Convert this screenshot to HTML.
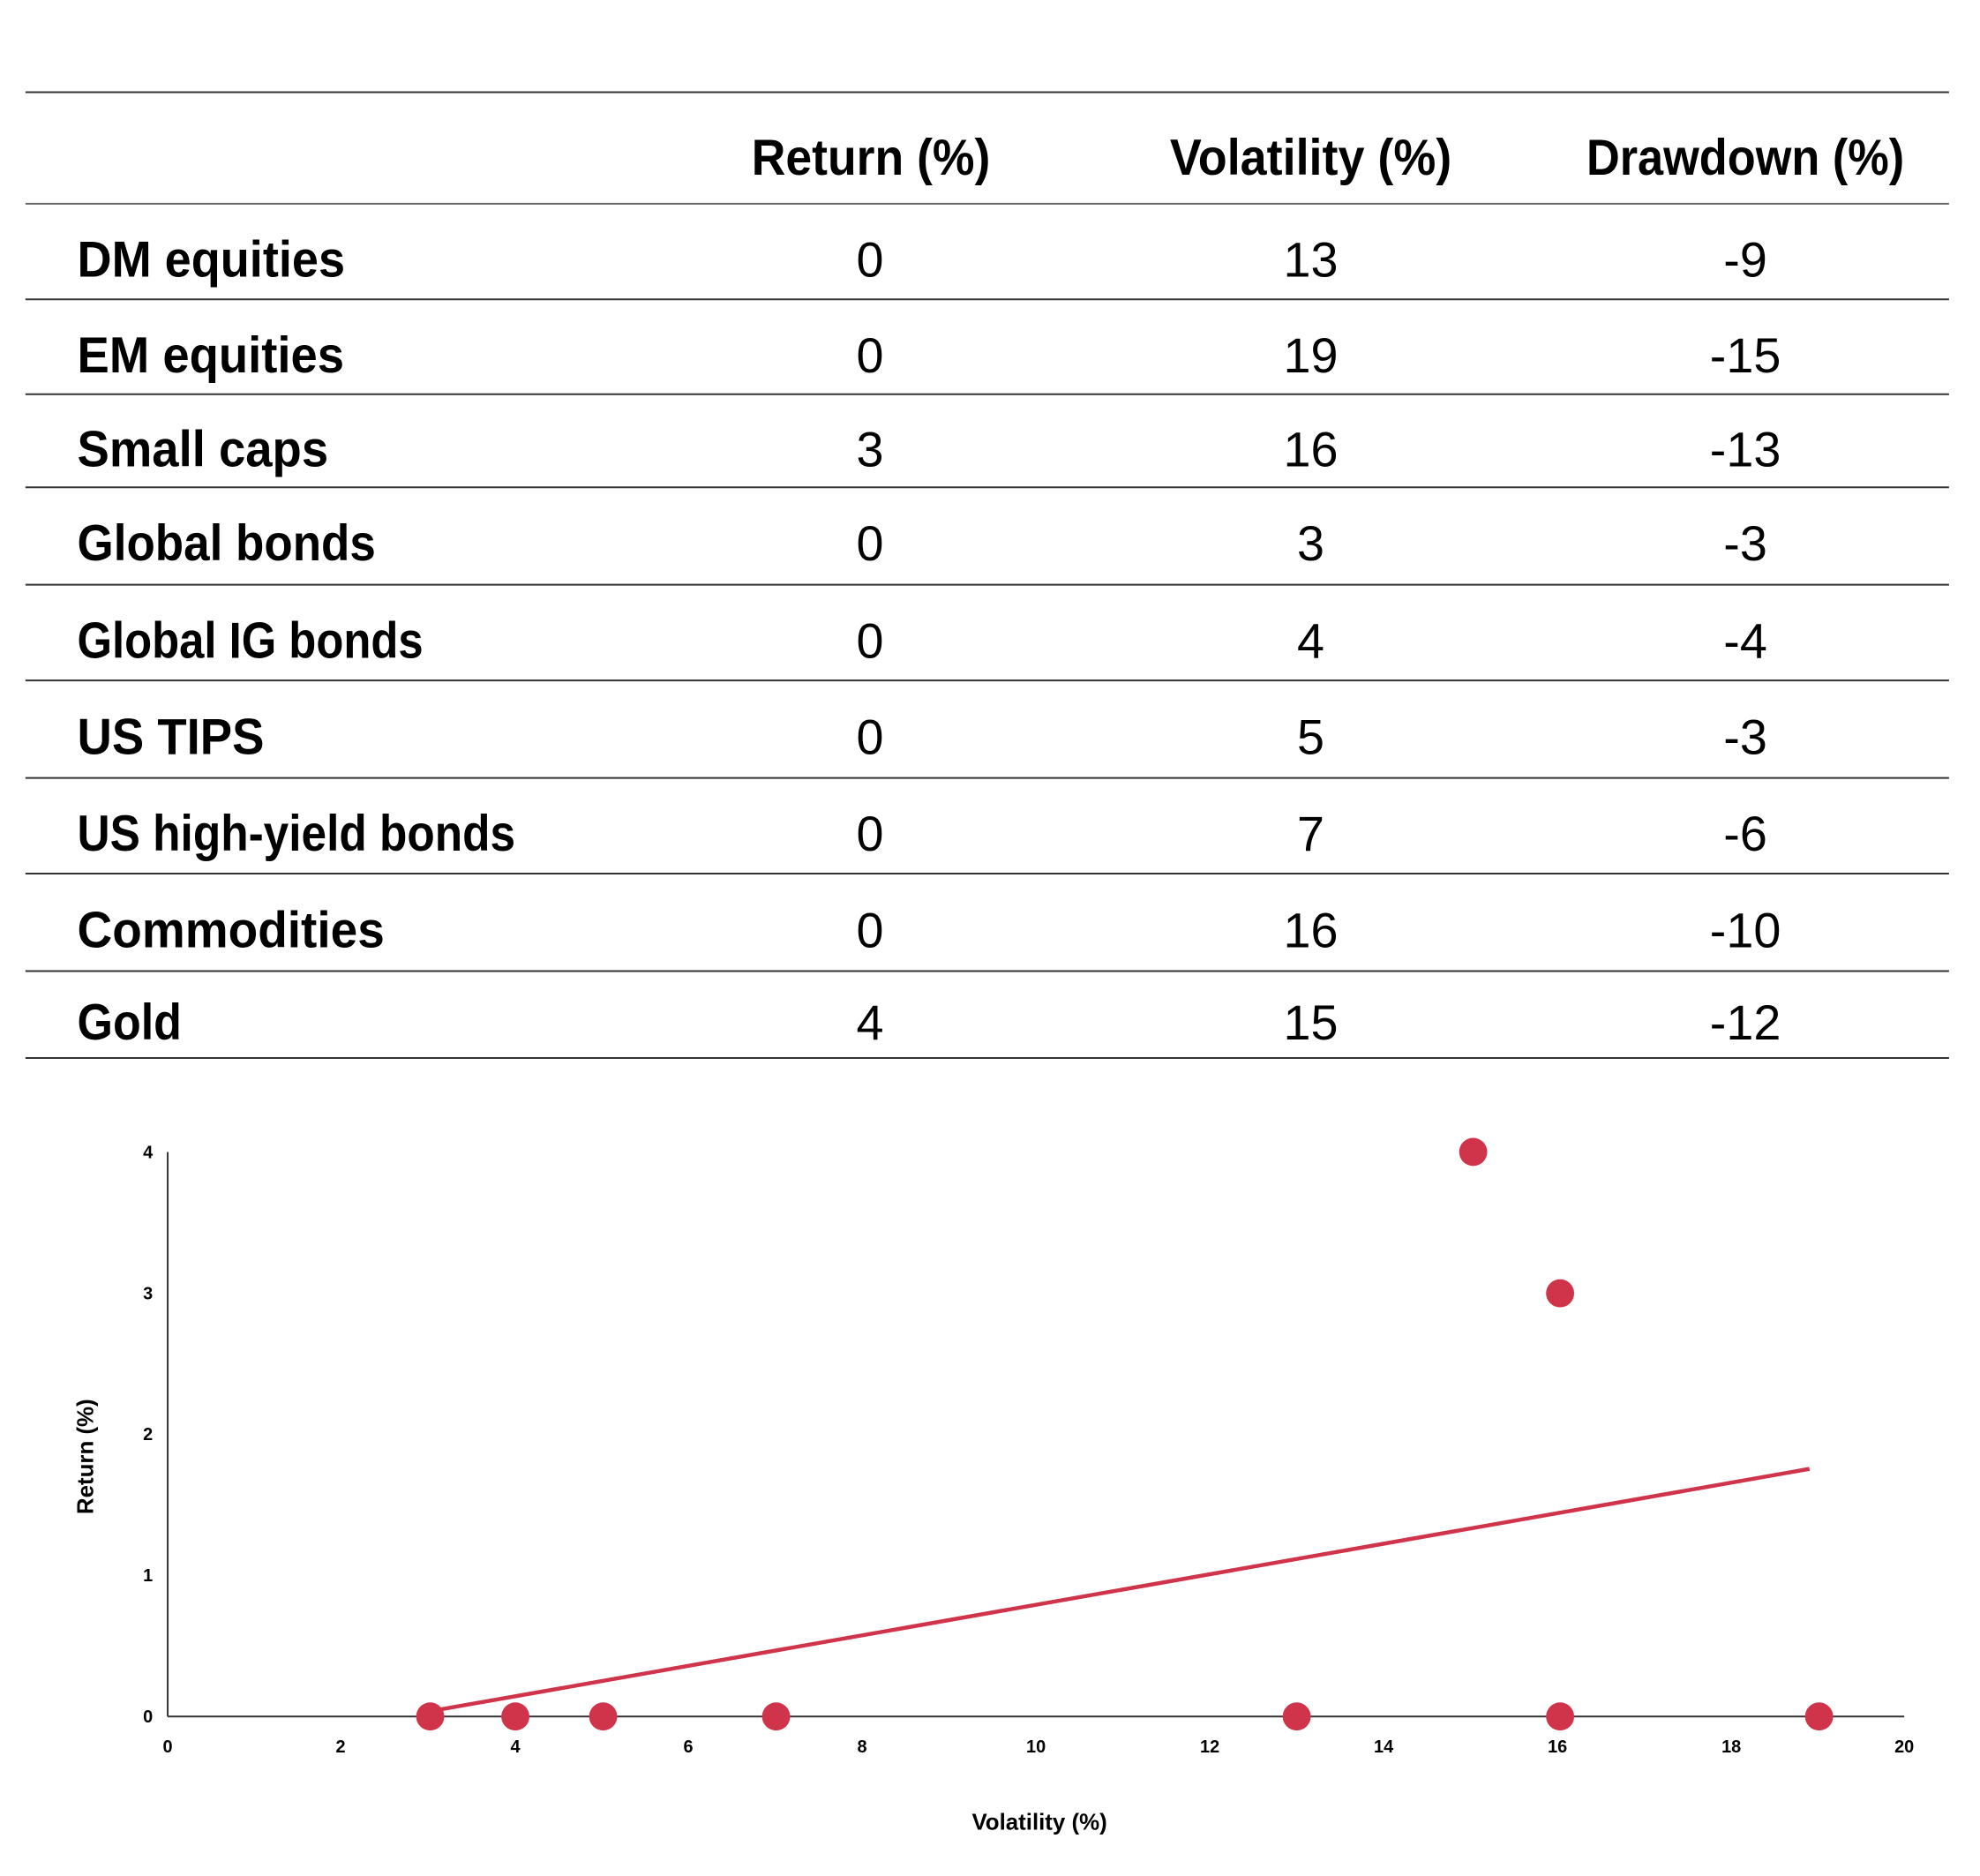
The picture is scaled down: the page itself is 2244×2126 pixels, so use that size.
<!DOCTYPE html>
<html><head><meta charset="utf-8"><style>
html,body{margin:0;padding:0;background:#fff;}
svg{display:block;}
text{font-family:"Liberation Sans",Arial,sans-serif;}
</style></head><body>
<svg width="2244" height="2126" viewBox="0 0 2244 2126" xmlns="http://www.w3.org/2000/svg">
<rect width="2244" height="2126" fill="#fff"/>
<g transform="scale(0.995)">
<g stroke="#333" stroke-width="2">
<line x1="29" y1="105" x2="2220" y2="105"/>
<line x1="29" y1="232" x2="2220" y2="232" stroke="#666"/>
<line x1="29" y1="341" x2="2220" y2="341"/>
<line x1="29" y1="449" x2="2220" y2="449"/>
<line x1="29" y1="555" x2="2220" y2="555"/>
<line x1="29" y1="666" x2="2220" y2="666"/>
<line x1="29" y1="775" x2="2220" y2="775"/>
<line x1="29" y1="886" x2="2220" y2="886"/>
<line x1="29" y1="995" x2="2220" y2="995"/>
<line x1="29" y1="1106" x2="2220" y2="1106"/>
<line x1="29" y1="1205" x2="2220" y2="1205"/>
</g>
<g transform="translate(0,-4)">
<g font-weight="bold" font-size="58" fill="#000" text-anchor="middle">
<text x="992" y="203" textLength="272" lengthAdjust="spacingAndGlyphs">Return (%)</text>
<text x="1493" y="203" textLength="321" lengthAdjust="spacingAndGlyphs">Volatility (%)</text>
<text x="1988" y="203" textLength="362" lengthAdjust="spacingAndGlyphs">Drawdown (%)</text>
</g>
<g font-weight="bold" font-size="58" fill="#000">
<text x="88" y="319" textLength="305" lengthAdjust="spacingAndGlyphs">DM equities</text>
<text x="88" y="428" textLength="304" lengthAdjust="spacingAndGlyphs">EM equities</text>
<text x="88" y="535" textLength="286" lengthAdjust="spacingAndGlyphs">Small caps</text>
<text x="88" y="642" textLength="340" lengthAdjust="spacingAndGlyphs">Global bonds</text>
<text x="88" y="753" textLength="394" lengthAdjust="spacingAndGlyphs">Global IG bonds</text>
<text x="88" y="863" textLength="213" lengthAdjust="spacingAndGlyphs">US TIPS</text>
<text x="88" y="973" textLength="499" lengthAdjust="spacingAndGlyphs">US high-yield bonds</text>
<text x="88" y="1083" textLength="350" lengthAdjust="spacingAndGlyphs">Commodities</text>
<text x="88" y="1188" textLength="119" lengthAdjust="spacingAndGlyphs">Gold</text>
</g>
<g font-size="56" fill="#000" text-anchor="middle">
<text x="991" y="319">0</text><text x="1493" y="319">13</text><text x="1988" y="319">-9</text>
<text x="991" y="428">0</text><text x="1493" y="428">19</text><text x="1988" y="428">-15</text>
<text x="991" y="535">3</text><text x="1493" y="535">16</text><text x="1988" y="535">-13</text>
<text x="991" y="642">0</text><text x="1493" y="642">3</text><text x="1988" y="642">-3</text>
<text x="991" y="753">0</text><text x="1493" y="753">4</text><text x="1988" y="753">-4</text>
<text x="991" y="863">0</text><text x="1493" y="863">5</text><text x="1988" y="863">-3</text>
<text x="991" y="973">0</text><text x="1493" y="973">7</text><text x="1988" y="973">-6</text>
<text x="991" y="1083">0</text><text x="1493" y="1083">16</text><text x="1988" y="1083">-10</text>
<text x="991" y="1188">4</text><text x="1493" y="1188">15</text><text x="1988" y="1188">-12</text>
</g>
</g>
<line x1="191" y1="1312" x2="191" y2="1955" stroke="#333" stroke-width="2"/>
<line x1="191" y1="1955" x2="2169" y2="1955" stroke="#333" stroke-width="2"/>
<g font-weight="bold" font-size="20" fill="#000" text-anchor="middle">
<text x="191" y="1996">0</text><text x="388" y="1996">2</text><text x="587" y="1996">4</text>
<text x="784" y="1996">6</text><text x="982" y="1996">8</text><text x="1180" y="1996">10</text>
<text x="1378" y="1996">12</text><text x="1576" y="1996">14</text><text x="1774" y="1996">16</text>
<text x="1972" y="1996">18</text><text x="2169" y="1996">20</text>
</g>
<g font-weight="bold" font-size="20" fill="#000" text-anchor="end">
<text x="174" y="1962">0</text><text x="174" y="1801">1</text><text x="174" y="1640">2</text>
<text x="174" y="1480">3</text><text x="174" y="1319">4</text>
</g>
<text x="1184" y="2084" font-weight="bold" font-size="26" text-anchor="middle">Volatility (%)</text>
<text transform="translate(106,1659) rotate(-90)" font-weight="bold" font-size="26" text-anchor="middle">Return (%)</text>
<line x1="490" y1="1949" x2="2061" y2="1673" stroke="#d0344a" stroke-width="4.5"/>
<g fill="#d0344a">
<circle cx="490" cy="1955" r="16"/><circle cx="587" cy="1955" r="16"/>
<circle cx="687" cy="1955" r="16"/><circle cx="884" cy="1955" r="16"/>
<circle cx="1477" cy="1955" r="16"/><circle cx="1777" cy="1955" r="16"/>
<circle cx="2072" cy="1955" r="16"/>
<circle cx="1678" cy="1312" r="16"/><circle cx="1777" cy="1473" r="16"/>
</g>
</g>
</svg>
</body></html>
